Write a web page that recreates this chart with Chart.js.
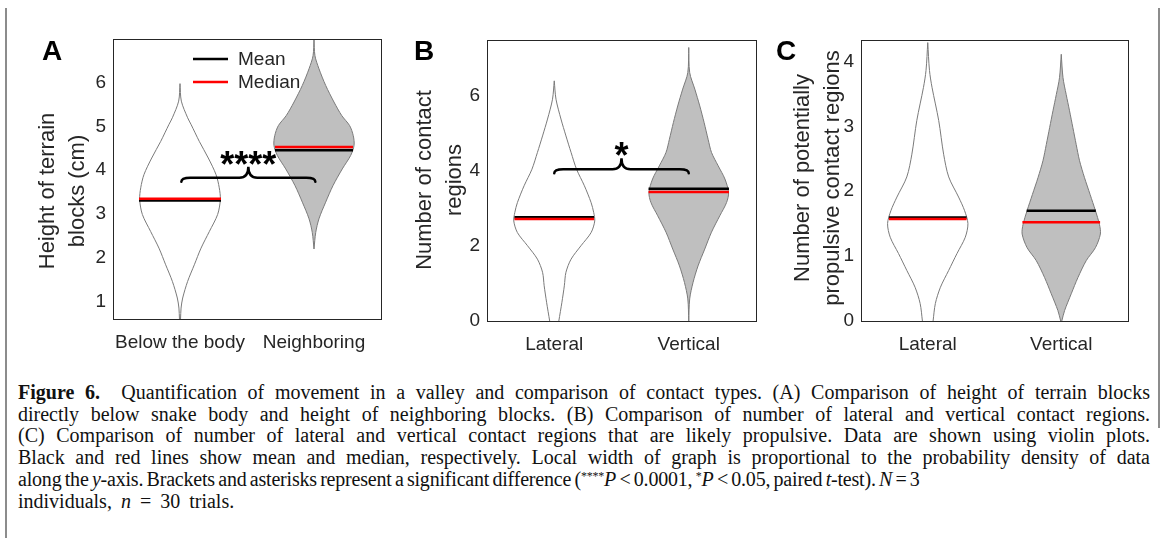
<!DOCTYPE html>
<html>
<head>
<meta charset="utf-8">
<script src="https://cdn.jsdelivr.net/npm/chart.js@4.4.1/dist/chart.umd.min.js"></script>
<style>
body { margin: 0; background: #fff; }
#fig { position: relative; width: 1165px; height: 538px; overflow: hidden; background: #fff; }
canvas { position: absolute; top: 0; }
#leftRule { position: absolute; left: 5px; top: 8px; width: 2px; height: 530px; background: #8c8c8c; }
#rightRule { position: absolute; left: 1158px; top: 8px; width: 2px; height: 420px; background: #8c8c8c; }
#caption { position: absolute; left: 18px; top: 382px; font-family: "Liberation Serif", "Times New Roman", serif; font-size: 20px; line-height: 21.7px; color: #111; }
#caption .j { width: 1132px; text-align: justify; text-align-last: justify; }
#caption .n { white-space: nowrap; letter-spacing: -0.2px; word-spacing: -1.5px; }
#caption .s { white-space: nowrap; word-spacing: 4px; }
#caption sup { font-size: 0.6em; line-height: 0; vertical-align: 0; position: relative; top: -0.5em; }
</style>
</head>
<body>
<div id="fig">
  <div id="leftRule"></div>
  <div id="rightRule"></div>
  <canvas id="panelA" width="390" height="360" style="left:0px"></canvas>
  <canvas id="panelB" width="380" height="360" style="left:390px"></canvas>
  <canvas id="panelC" width="380" height="360" style="left:770px"></canvas>
  <div id="caption">
    <div class="j"><b>Figure 6.</b>&nbsp; Quantification of movement in a valley and comparison of contact types. (A) Comparison of height of terrain blocks</div>
    <div class="j">directly below snake body and height of neighboring blocks. (B) Comparison of number of lateral and vertical contact regions.</div>
    <div class="j">(C) Comparison of number of lateral and vertical contact regions that are likely propulsive. Data are shown using violin plots.</div>
    <div class="j">Black and red lines show mean and median, respectively. Local width of graph is proportional to the probability density of data</div>
    <div class="n">along the <i>y</i>-axis. Brackets and asterisks represent a significant difference (<sup>****</sup><i>P</i> &lt; 0.0001, <sup>*</sup><i>P</i> &lt; 0.05, paired <i>t</i>-test). <i>N</i> = 3</div>
    <div class="s">individuals, <i>n</i> = 30 trials.</div>
  </div>
</div>
<script>
const FONT = '"Liberation Sans", Arial, Helvetica, sans-serif';
const INK = '#262626';
Chart.defaults.font.family = FONT;
Chart.defaults.color = INK;

// ---- panel A: height of terrain blocks
const catsA = ['Below the body', 'Neighboring'];
const yTicksA = [1, 2, 3, 4, 5, 6];
// violin outline: [value, half width]
const belowBody = [[0.60, 0.004], [0.85, 0.008], [1.08, 0.020], [1.46, 0.057], [1.84, 0.107], [2.22, 0.157],
  [2.60, 0.219], [2.99, 0.281], [3.33, 0.301], [3.60, 0.293], [3.90, 0.269], [4.28, 0.211], [4.66, 0.144],
  [5.05, 0.082], [5.20, 0.057], [5.58, 0.010], [5.98, 0]];
const neighboring = [[2.20, 0], [2.58, 0.013], [2.89, 0.037], [3.27, 0.087], [3.65, 0.142], [4.03, 0.211],
  [4.34, 0.274], [4.57, 0.299], [4.79, 0.293], [5.02, 0.266], [5.25, 0.207], [5.56, 0.149], [5.94, 0.087],
  [6.32, 0.037], [6.62, 0.007], [7.00, 0]];
const meanA = [3.31, 4.46];
const medianA = [3.35, 4.53];
const meanHalfA = [0.306, 0.291];
const medianHalfA = [0.306, 0.291];

// ---- panel B: number of contact regions
const catsB = ['Lateral', 'Vertical'];
const yTicksB = [0, 2, 4, 6];
const lateralB = [[0, 0.034], [0.50, 0.057], [0.94, 0.075], [1.30, 0.087], [1.65, 0.125], [2.01, 0.199],
  [2.36, 0.274], [2.67, 0.301], [2.90, 0.293], [3.16, 0.274], [3.61, 0.224], [4.05, 0.166], [4.50, 0.125],
  [4.94, 0.087], [5.39, 0.050], [5.92, 0.013], [6.41, 0]];
const verticalB = [[0, 0], [0.59, 0.007], [1.03, 0.032], [1.47, 0.069], [1.92, 0.119], [2.37, 0.169],
  [2.81, 0.231], [3.16, 0.281], [3.43, 0.296], [3.79, 0.269], [4.14, 0.219], [4.50, 0.169], [4.85, 0.144],
  [5.30, 0.114], [5.74, 0.082], [6.19, 0.045], [6.63, 0.007], [7.30, 0]];
const meanB = [2.77, 3.53];
const medianB = [2.72, 3.44];
const meanHalfB = [0.296, 0.299];
const medianHalfB = [0.296, 0.299];

// ---- panel C: potentially propulsive contact regions
const catsC = ['Lateral', 'Vertical'];
const yTicksC = [0, 1, 2, 3, 4];
const lateralC = [[0, 0.040], [0.27, 0.057], [0.52, 0.095], [0.78, 0.157], [1.04, 0.219], [1.29, 0.281],
  [1.50, 0.301], [1.70, 0.276], [1.91, 0.231], [2.22, 0.157], [2.57, 0.119], [3.09, 0.082], [3.60, 0.032],
  [3.86, 0.013], [4.29, 0]];
const verticalC = [[0, 0.004], [0.16, 0.025], [0.42, 0.075], [0.67, 0.125], [0.93, 0.187], [1.13, 0.256],
  [1.34, 0.293], [1.49, 0.286], [1.70, 0.256], [1.95, 0.216], [2.21, 0.174], [2.47, 0.137], [2.72, 0.112],
  [2.98, 0.087], [3.24, 0.062], [3.49, 0.037], [3.75, 0.013], [4.11, 0]];
const meanC = [1.595, 1.70];
const medianC = [1.57, 1.52];
const meanHalfC = [0.291, 0.259];
const medianHalfC = [0.291, 0.291];

const legendNames = ['Mean', 'Median'];
const legendColors = ['#000000', '#ff0000'];

function violin(profile, pos, fill) {
  let left = profile.map(p => ({x: pos - p[1], y: p[0]}));
  let right = profile.slice().reverse().map(p => ({x: pos + p[1], y: p[0]}));
  return {
    data: left.concat(right), showLine: true, fill: 'shape', tension: 0.3,
    borderColor: '#7a7a7a', borderWidth: 1, backgroundColor: fill, pointRadius: 0, order: 2
  };
}

function hline(pos, half, y, color, order) {
  return {
    data: [{x: pos - half, y: y}, {x: pos + half, y: y}], showLine: true, fill: false,
    borderColor: color, borderWidth: 2.5, pointRadius: 0, order: order
  };
}

// frame, panel letter, axis title, legend, brace
const decor = {
  id: 'decor',
  afterDraw(chart, args, o) {
    let ctx = chart.ctx;
    let a = chart.chartArea;
    ctx.save();
    ctx.strokeStyle = INK;
    ctx.lineWidth = 1;
    ctx.strokeRect(Math.round(a.left) + 0.5, Math.round(a.top) + 0.5, Math.round(a.right - a.left), Math.round(a.bottom - a.top));

    ctx.fillStyle = '#000';
    ctx.font = 'bold 28px ' + FONT;
    ctx.textBaseline = 'alphabetic';
    ctx.textAlign = 'left';
    ctx.fillText(o.letter, o.letterX, 60);

    // y title, two lines
    ctx.fillStyle = INK;
    ctx.font = '22px ' + FONT;
    ctx.textAlign = 'center';
    ctx.textBaseline = 'middle';
    o.title.forEach((t, i) => {
      ctx.save();
      ctx.translate(o.titleX + i * 30, o.titleY);
      ctx.rotate(-Math.PI / 2);
      ctx.fillText(t, 0, 0);
      ctx.restore();
    });

    if (o.legend) {
      ctx.font = '19px ' + FONT;
      ctx.textAlign = 'left';
      legendNames.forEach((name, i) => {
        let y = 59 + i * 23;
        ctx.strokeStyle = legendColors[i];
        ctx.lineWidth = 2.5;
        ctx.beginPath();
        ctx.moveTo(193, y);
        ctx.lineTo(228, y);
        ctx.stroke();
        ctx.fillStyle = INK;
        ctx.fillText(name, 238, y + 1);
      });
    }

    if (o.brace) {
      let b = o.brace;
      let xs = chart.scales.x, ys = chart.scales.y;
      let x1 = xs.getPixelForValue(b.from), x2 = xs.getPixelForValue(b.to);
      let xm = (x1 + x2) / 2, y0 = ys.getPixelForValue(b.y);
      let r = 9, hook = 4, tip = 11;
      ctx.strokeStyle = '#000';
      ctx.lineWidth = 2.5;
      ctx.lineCap = 'round';
      ctx.beginPath();
      ctx.moveTo(x1, y0 + hook);
      ctx.quadraticCurveTo(x1, y0, x1 + r, y0);
      ctx.lineTo(xm - r, y0);
      ctx.quadraticCurveTo(xm, y0, xm, y0 - tip);
      ctx.quadraticCurveTo(xm, y0, xm + r, y0);
      ctx.lineTo(x2 - r, y0);
      ctx.quadraticCurveTo(x2, y0, x2, y0 + hook);
      ctx.stroke();
      ctx.fillStyle = '#000';
      ctx.font = 'bold 36px ' + FONT;
      ctx.textAlign = 'center';
      ctx.textBaseline = 'alphabetic';
      ctx.fillText(b.stars, xm, ys.getPixelForValue(b.starY));
    }
    ctx.restore();
  }
};

function panel(id, cfg) {
  let ds = [];
  cfg.violins.forEach((v, i) => ds.push(violin(v, i + 1, i ? '#bfbfbf' : '#ffffff')));
  cfg.means.forEach((m, i) => ds.push(hline(i + 1, cfg.meanHalf[i], m, '#000000', 1)));
  cfg.medians.forEach((m, i) => ds.push(hline(i + 1, cfg.medianHalf[i], m, '#ff0000', 0)));
  new Chart(document.getElementById(id), {
    type: 'scatter',
    data: {datasets: ds},
    options: {
      responsive: false,
      animation: false,
      events: [],
      layout: {padding: {left: 0, top: cfg.top, right: cfg.right, bottom: 0}},
      plugins: {legend: {display: false}, tooltip: {enabled: false}, decor: cfg.decor},
      scales: {
        x: {
          type: 'linear', min: 0.5, max: 2.5,
          grid: {display: false, drawTicks: false}, border: {display: false},
          afterBuildTicks: s => { s.ticks = cfg.cats.map((c, i) => ({value: i + 1})); },
          ticks: {callback: (v, i) => cfg.cats[i], font: {size: 19}, color: INK, padding: 12, maxRotation: 0, autoSkip: false},
          afterFit: s => { s.height = cfg.xh; }
        },
        y: {
          type: 'linear', min: cfg.min, max: cfg.max,
          grid: {display: false, drawTicks: false}, border: {display: false},
          afterBuildTicks: s => { s.ticks = cfg.ticks.map(v => ({value: v})); },
          ticks: {font: {size: 19}, color: INK, padding: 7},
          afterFit: s => { s.width = cfg.yw; }
        }
      }
    },
    plugins: [decor]
  });
}

panel('panelA', {
  cats: catsA, ticks: yTicksA, min: 0.6, max: 7.0,
  violins: [belowBody, neighboring], means: meanA, medians: medianA, meanHalf: meanHalfA, medianHalf: medianHalfA,
  top: 39, right: 9, xh: 41, yw: 113,
  decor: {letter: 'A', letterX: 42, title: ['Height of terrain', 'blocks (cm)'], titleX: 48, titleY: 191, legend: true,
    brace: {from: 1.01, to: 2.01, y: 3.83, stars: '****', starY: 3.84}}
});

panel('panelB', {
  cats: catsB, ticks: yTicksB, min: 0, max: 7.5,
  violins: [lateralB, verticalB], means: meanB, medians: medianB, meanHalf: meanHalfB, medianHalf: medianHalfB,
  top: 40, right: 14, xh: 39, yw: 97,
  decor: {letter: 'B', letterX: 24, title: ['Number of contact', 'regions'], titleX: 35, titleY: 180, legend: false,
    brace: {from: 1.0, to: 2.0, y: 4.05, stars: '*', starY: 4.08}}
});

panel('panelC', {
  cats: catsC, ticks: yTicksC, min: 0, max: 4.33,
  violins: [lateralC, verticalC], means: meanC, medians: medianC, meanHalf: meanHalfC, medianHalf: medianHalfC,
  top: 40, right: 22, xh: 39, yw: 91,
  decor: {letter: 'C', letterX: 6, title: ['Number of potentially', 'propulsive contact regions'], titleX: 33, titleY: 178, legend: false}
});
</script>
</body>
</html>
